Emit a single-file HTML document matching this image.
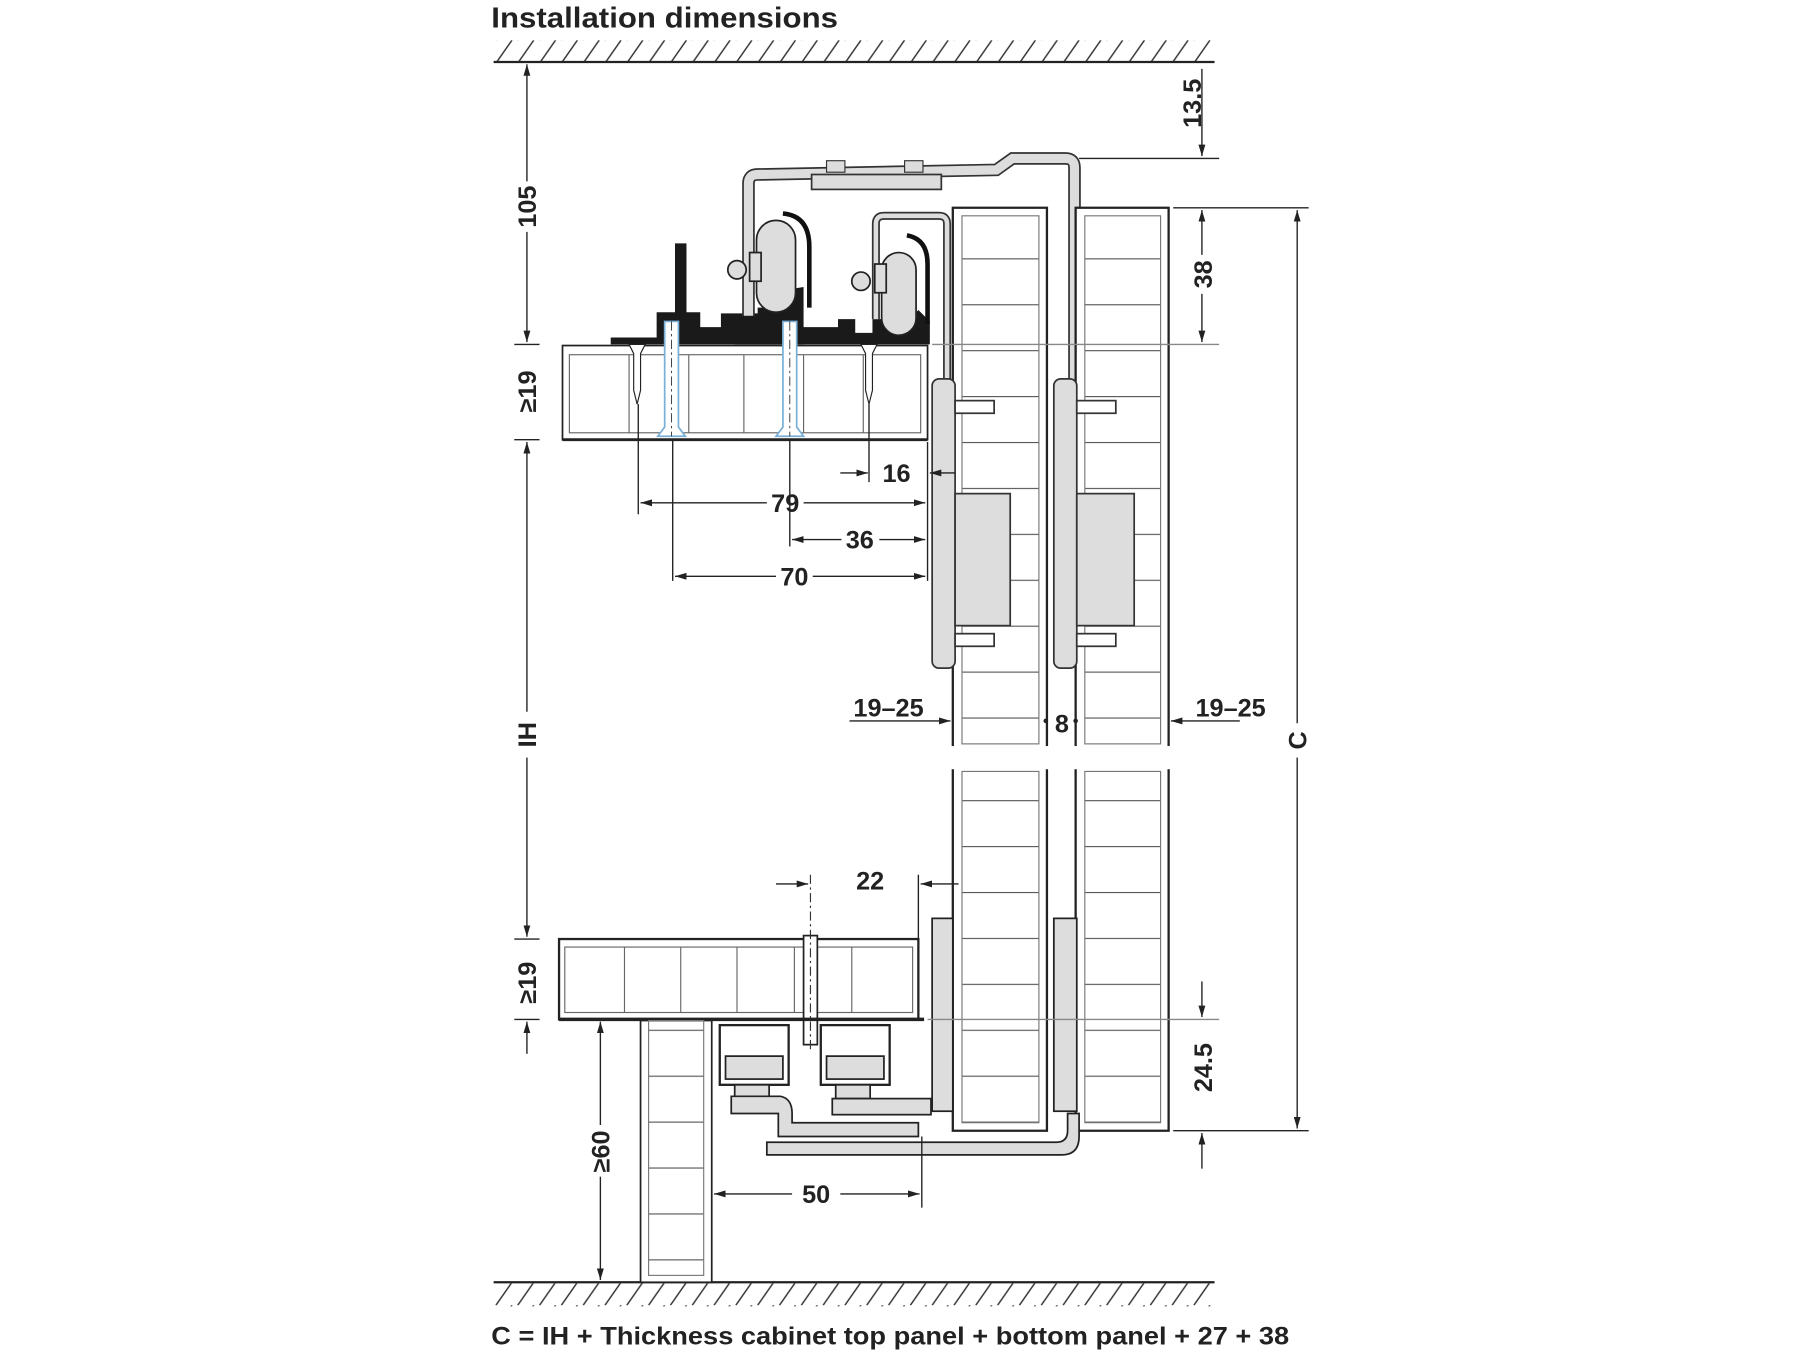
<!DOCTYPE html>
<html><head><meta charset="utf-8"><style>html,body{margin:0;padding:0;background:#fff}svg{display:block}text{font-family:"Liberation Sans",Arial,sans-serif;font-weight:bold;fill:#222}</style></head>
<body>
<svg width="1800" height="1350" viewBox="0 0 1568 1176" xmlns="http://www.w3.org/2000/svg">
<defs>
<pattern id="hatch" patternUnits="userSpaceOnUse" width="19" height="20" x="430" y="35"><line x1="2" y1="20" x2="16" y2="0" stroke="#333" stroke-width="1.3"/></pattern>
<pattern id="hatch2" patternUnits="userSpaceOnUse" width="19" height="20" x="430" y="1117"><line x1="2" y1="20" x2="16" y2="0" stroke="#333" stroke-width="1.3"/></pattern>
<pattern id="grid" patternUnits="userSpaceOnUse" width="100" height="40" x="0" y="185"><line x1="0" y1="0.5" x2="100" y2="0.5" stroke="#555" stroke-width="1"/></pattern>
<pattern id="grid2" patternUnits="userSpaceOnUse" width="100" height="40" x="0" y="897"><line x1="0" y1="0.5" x2="100" y2="0.5" stroke="#555" stroke-width="1"/></pattern>
<marker id="ar" viewBox="0 0 10 6" refX="10" refY="3" markerWidth="10" markerHeight="6" orient="auto-start-reverse" markerUnits="userSpaceOnUse"><path d="M0,0 L10,3 L0,6z" fill="#222"/></marker>
</defs>

<text x="428" y="24" font-size="25" textLength="302" lengthAdjust="spacingAndGlyphs">Installation dimensions</text>
<rect x="430" y="35" width="628" height="19" fill="url(#hatch)"/>
<line x1="430" y1="54" x2="1058" y2="54" stroke="#222" stroke-width="2"/>
<rect x="430" y="1118" width="628" height="20" fill="url(#hatch2)"/>
<line x1="430" y1="1117" x2="1058" y2="1117" stroke="#222" stroke-width="2"/>
<text x="428" y="1171" font-size="22" textLength="695" lengthAdjust="spacingAndGlyphs">C = IH + Thickness cabinet top panel + bottom panel + 27 + 38</text>

<rect x="490" y="301" width="318" height="82" fill="#fff" stroke="#222" stroke-width="1.5"/>
<rect x="496" y="309" width="306" height="68" fill="none" stroke="#666"/>
<g stroke="#666"><line x1="548" y1="309" x2="548" y2="377"/><line x1="600" y1="309" x2="600" y2="377"/><line x1="648" y1="309" x2="648" y2="377"/><line x1="700" y1="309" x2="700" y2="377"/><line x1="752" y1="309" x2="752" y2="377"/></g>
<line x1="490" y1="383" x2="808" y2="383" stroke="#222" stroke-width="2.5"/>

<path d="M532,300 L532,294 L572,294 L572,272 L588,272 L588,212 L598,212 L598,272 L610,272 L610,285 L628,285 L628,273 L660,273 L660,268 L688,268 L688,252 L700,250 L700,285 L730,285 L730,278 L745,278 L745,290 L760,290 L760,278 L792,278 L800,270 L810,280 L810,300 Z" fill="#1a1a1a"/>
<path d="M640,292 L700,292 L700,300 L640,300Z" fill="#1a1a1a"/>
<path d="M548,300 L562,300 L558,308 L558,340 L555,352 L552,340 L552,308Z" fill="#fff" stroke="#222"/>
<path d="M750,300 L764,300 L760,308 L760,340 L757,352 L754,340 L754,308Z" fill="#fff" stroke="#222"/>
<g stroke="#7ab0d8" stroke-width="1.5" fill="#fff"><path d="M579,280 L591,280 L591,372 L597,380 L573,380 L579,372Z"/><path d="M682,280 L694,280 L694,372 L700,380 L676,380 L682,372Z"/></g>
<g stroke="#333" stroke-width="0.8" stroke-dasharray="8,3,2,3"><line x1="585" y1="280" x2="585" y2="380"/><line x1="688" y1="280" x2="688" y2="380"/></g>

<path d="M652,275 L652,160 Q652,152 660,152 L868,148 L882,138 L928,138 Q936,138 936,146 L936,330" fill="none" stroke="#333" stroke-width="11"/>
<path d="M652,275 L652,160 Q652,152 660,152 L868,148 L882,138 L928,138 Q936,138 936,146 L936,330" fill="none" stroke="#ddd" stroke-width="8"/>
<rect x="707" y="152" width="113" height="13" fill="#ddd" stroke="#333" stroke-width="1.5"/>
<rect x="720" y="140" width="16" height="10" fill="#ddd" stroke="#333"/><rect x="788" y="140" width="16" height="10" fill="#ddd" stroke="#333"/>
<path d="M763,278 L763,195 Q763,188 770,188 L818,188 Q825,188 825,195 L825,330" fill="none" stroke="#333" stroke-width="7"/>
<path d="M763,278 L763,195 Q763,188 770,188 L818,188 Q825,188 825,195 L825,330" fill="none" stroke="#ddd" stroke-width="4"/>
<g fill="#ddd" stroke="#222" stroke-width="1.5">
<circle cx="642" cy="235" r="8"/><rect x="659" y="192" width="34" height="80" rx="17"/><rect x="653" y="220" width="10" height="25"/>
<circle cx="750" cy="245" r="8"/><rect x="768" y="220" width="30" height="72" rx="15"/><rect x="762" y="230" width="10" height="25"/>
</g>
<path d="M682,186 Q705,188 705,215 L705,268" fill="none" stroke="#111" stroke-width="4"/>
<path d="M790,205 Q808,208 808,230 L808,282" fill="none" stroke="#111" stroke-width="4"/>

<g fill="#fff" stroke="#222" stroke-width="2">
<path d="M830,650 L830,181 L912,181 L912,650"/><path d="M937,650 L937,181 L1018,181 L1018,650"/>
<path d="M830,670 L830,985 L912,985 L912,670"/><path d="M937,670 L937,985 L1018,985 L1018,670"/>
</g>
<g fill="url(#grid)" stroke="#777" stroke-width="1"><rect x="838" y="188" width="67" height="460"/><rect x="945" y="188" width="66" height="460"/></g>
<g fill="url(#grid2)" stroke="#777" stroke-width="1"><rect x="838" y="672" width="67" height="306"/><rect x="945" y="672" width="66" height="306"/></g>
<rect x="826" y="650" width="200" height="20" fill="#fff"/>
<g fill="#ddd" stroke="#333" stroke-width="1.5">
<rect x="812" y="330" width="20" height="252" rx="6"/><rect x="918" y="330" width="20" height="252" rx="6"/>
<rect x="832" y="430" width="48" height="115"/><rect x="938" y="430" width="50" height="115"/>
</g>
<g fill="#fff" stroke="#333" stroke-width="1.5"><rect x="832" y="349" width="34" height="11"/><rect x="938" y="349" width="34" height="11"/><rect x="832" y="552" width="34" height="11"/><rect x="938" y="552" width="34" height="11"/></g>

<rect x="487" y="818" width="313" height="70" fill="#fff" stroke="#222" stroke-width="2"/>
<rect x="492" y="825" width="303" height="57" fill="none" stroke="#666"/>
<g stroke="#666"><line x1="544" y1="825" x2="544" y2="882"/><line x1="593" y1="825" x2="593" y2="882"/><line x1="642" y1="825" x2="642" y2="882"/><line x1="692" y1="825" x2="692" y2="882"/><line x1="742" y1="825" x2="742" y2="882"/></g>
<rect x="700" y="815" width="12" height="95" fill="#fff" stroke="#222" stroke-width="1.5"/>
<line x1="706" y1="762" x2="706" y2="915" stroke="#333" stroke-dasharray="8,3,2,3"/>
<line x1="487" y1="888" x2="805" y2="888" stroke="#222" stroke-width="3"/>
<rect x="558" y="889" width="62" height="228" fill="#fff" stroke="#222" stroke-width="1.5"/>
<rect x="565" y="889" width="48" height="222" fill="url(#grid2)" stroke="#777"/>
<g fill="#fff" stroke="#222" stroke-width="2"><rect x="627" y="893" width="60" height="52"/><rect x="715" y="893" width="60" height="52"/></g>
<g fill="#ddd" stroke="#222" stroke-width="1.5"><rect x="632" y="920" width="50" height="20"/><rect x="720" y="920" width="50" height="20"/>
<rect x="640" y="945" width="30" height="12"/><rect x="728" y="945" width="30" height="12"/>
<path d="M637,955 L680,955 Q690,957 690,970 L690,978 L800,978 L800,990 L678,990 L678,970 L637,970Z"/>
<rect x="725" y="957" width="86" height="14"/>
<rect x="812" y="800" width="18" height="168"/><rect x="918" y="800" width="20" height="168"/>
<path d="M668,995 L920,995 Q930,995 930,985 L930,970 L940,970 L940,990 Q940,1006 925,1006 L668,1006Z"/>
</g>

<g stroke="#222" stroke-width="1.2" fill="none">
<line x1="459" y1="56" x2="459" y2="158" marker-start="url(#ar)"/><line x1="459" y1="202" x2="459" y2="298" marker-end="url(#ar)"/>
<line x1="448" y1="300" x2="470" y2="300"/><line x1="448" y1="383" x2="470" y2="383"/>
<line x1="459" y1="385" x2="459" y2="620" marker-start="url(#ar)"/><line x1="459" y1="660" x2="459" y2="816" marker-end="url(#ar)"/>
<line x1="448" y1="818" x2="470" y2="818"/><line x1="448" y1="888" x2="470" y2="888"/>
<line x1="459" y1="918" x2="459" y2="890" marker-end="url(#ar)"/>
<line x1="523" y1="890" x2="523" y2="980" marker-start="url(#ar)"/><line x1="523" y1="1025" x2="523" y2="1115" marker-end="url(#ar)"/>
<line x1="1047" y1="60" x2="1047" y2="136" marker-end="url(#ar)"/>
<line x1="940" y1="138" x2="1062" y2="138"/>
<line x1="1022" y1="181" x2="1140" y2="181"/>
<line x1="1047" y1="183" x2="1047" y2="222" marker-start="url(#ar)"/><line x1="1047" y1="256" x2="1047" y2="298" marker-end="url(#ar)"/>
<line x1="812" y1="300" x2="1062" y2="300" stroke="#888"/>
<line x1="1130" y1="183" x2="1130" y2="630" marker-start="url(#ar)"/><line x1="1130" y1="660" x2="1130" y2="983" marker-end="url(#ar)"/>
<line x1="1022" y1="985" x2="1140" y2="985"/>
<line x1="808" y1="888" x2="1062" y2="888" stroke="#888"/>
<line x1="1047" y1="855" x2="1047" y2="886" marker-end="url(#ar)"/><line x1="1047" y1="1018" x2="1047" y2="987" marker-end="url(#ar)"/>
<line x1="556" y1="352" x2="556" y2="448"/><line x1="586" y1="383" x2="586" y2="506"/><line x1="688" y1="383" x2="688" y2="476"/><line x1="757" y1="352" x2="757" y2="420"/><line x1="808" y1="385" x2="808" y2="506"/>
<line x1="732" y1="412" x2="756" y2="412" marker-end="url(#ar)"/><line x1="832" y1="412" x2="810" y2="412" marker-end="url(#ar)"/>
<line x1="558" y1="438" x2="668" y2="438" marker-start="url(#ar)"/><line x1="700" y1="438" x2="806" y2="438" marker-end="url(#ar)"/>
<line x1="690" y1="470" x2="733" y2="470" marker-start="url(#ar)"/><line x1="766" y1="470" x2="806" y2="470" marker-end="url(#ar)"/>
<line x1="588" y1="502" x2="676" y2="502" marker-start="url(#ar)"/><line x1="708" y1="502" x2="806" y2="502" marker-end="url(#ar)"/>
<line x1="740" y1="628" x2="828" y2="628" marker-end="url(#ar)"/>
<line x1="1080" y1="628" x2="1020" y2="628" marker-end="url(#ar)"/>
<line x1="676" y1="770" x2="704" y2="770" marker-end="url(#ar)"/><line x1="835" y1="770" x2="802" y2="770" marker-end="url(#ar)"/>
<line x1="800" y1="762" x2="800" y2="818"/><line x1="803" y1="990" x2="803" y2="1052"/>
<line x1="622" y1="1040" x2="690" y2="1040" marker-start="url(#ar)"/><line x1="732" y1="1040" x2="801" y2="1040" marker-end="url(#ar)"/>
</g>
<circle cx="911" cy="628" r="2" fill="#222"/><circle cx="937" cy="628" r="2" fill="#222"/>
<g font-size="22">
<text transform="translate(467,180) rotate(-90)" text-anchor="middle">105</text>
<text transform="translate(467,341) rotate(-90)" text-anchor="middle">≥19</text>
<text transform="translate(467,640) rotate(-90)" text-anchor="middle">IH</text>
<text transform="translate(467,856) rotate(-90)" text-anchor="middle">≥19</text>
<text transform="translate(531,1003) rotate(-90)" text-anchor="middle">≥60</text>
<text transform="translate(1046,90) rotate(-90)" text-anchor="middle">13.5</text>
<text transform="translate(1056,239) rotate(-90)" text-anchor="middle">38</text>
<text transform="translate(1138,645) rotate(-90)" text-anchor="middle">C</text>
<text transform="translate(1056,930) rotate(-90)" text-anchor="middle">24.5</text>
<text x="781" y="420" text-anchor="middle">16</text>
<text x="684" y="446" text-anchor="middle">79</text>
<text x="749" y="478" text-anchor="middle">36</text>
<text x="692" y="510" text-anchor="middle">70</text>
<text x="774" y="624" text-anchor="middle">19–25</text>
<text x="925" y="638" text-anchor="middle">8</text>
<text x="1072" y="624" text-anchor="middle">19–25</text>
<text x="758" y="775" text-anchor="middle">22</text>
<text x="711" y="1048" text-anchor="middle">50</text>
</g>
</svg>
</body></html>
